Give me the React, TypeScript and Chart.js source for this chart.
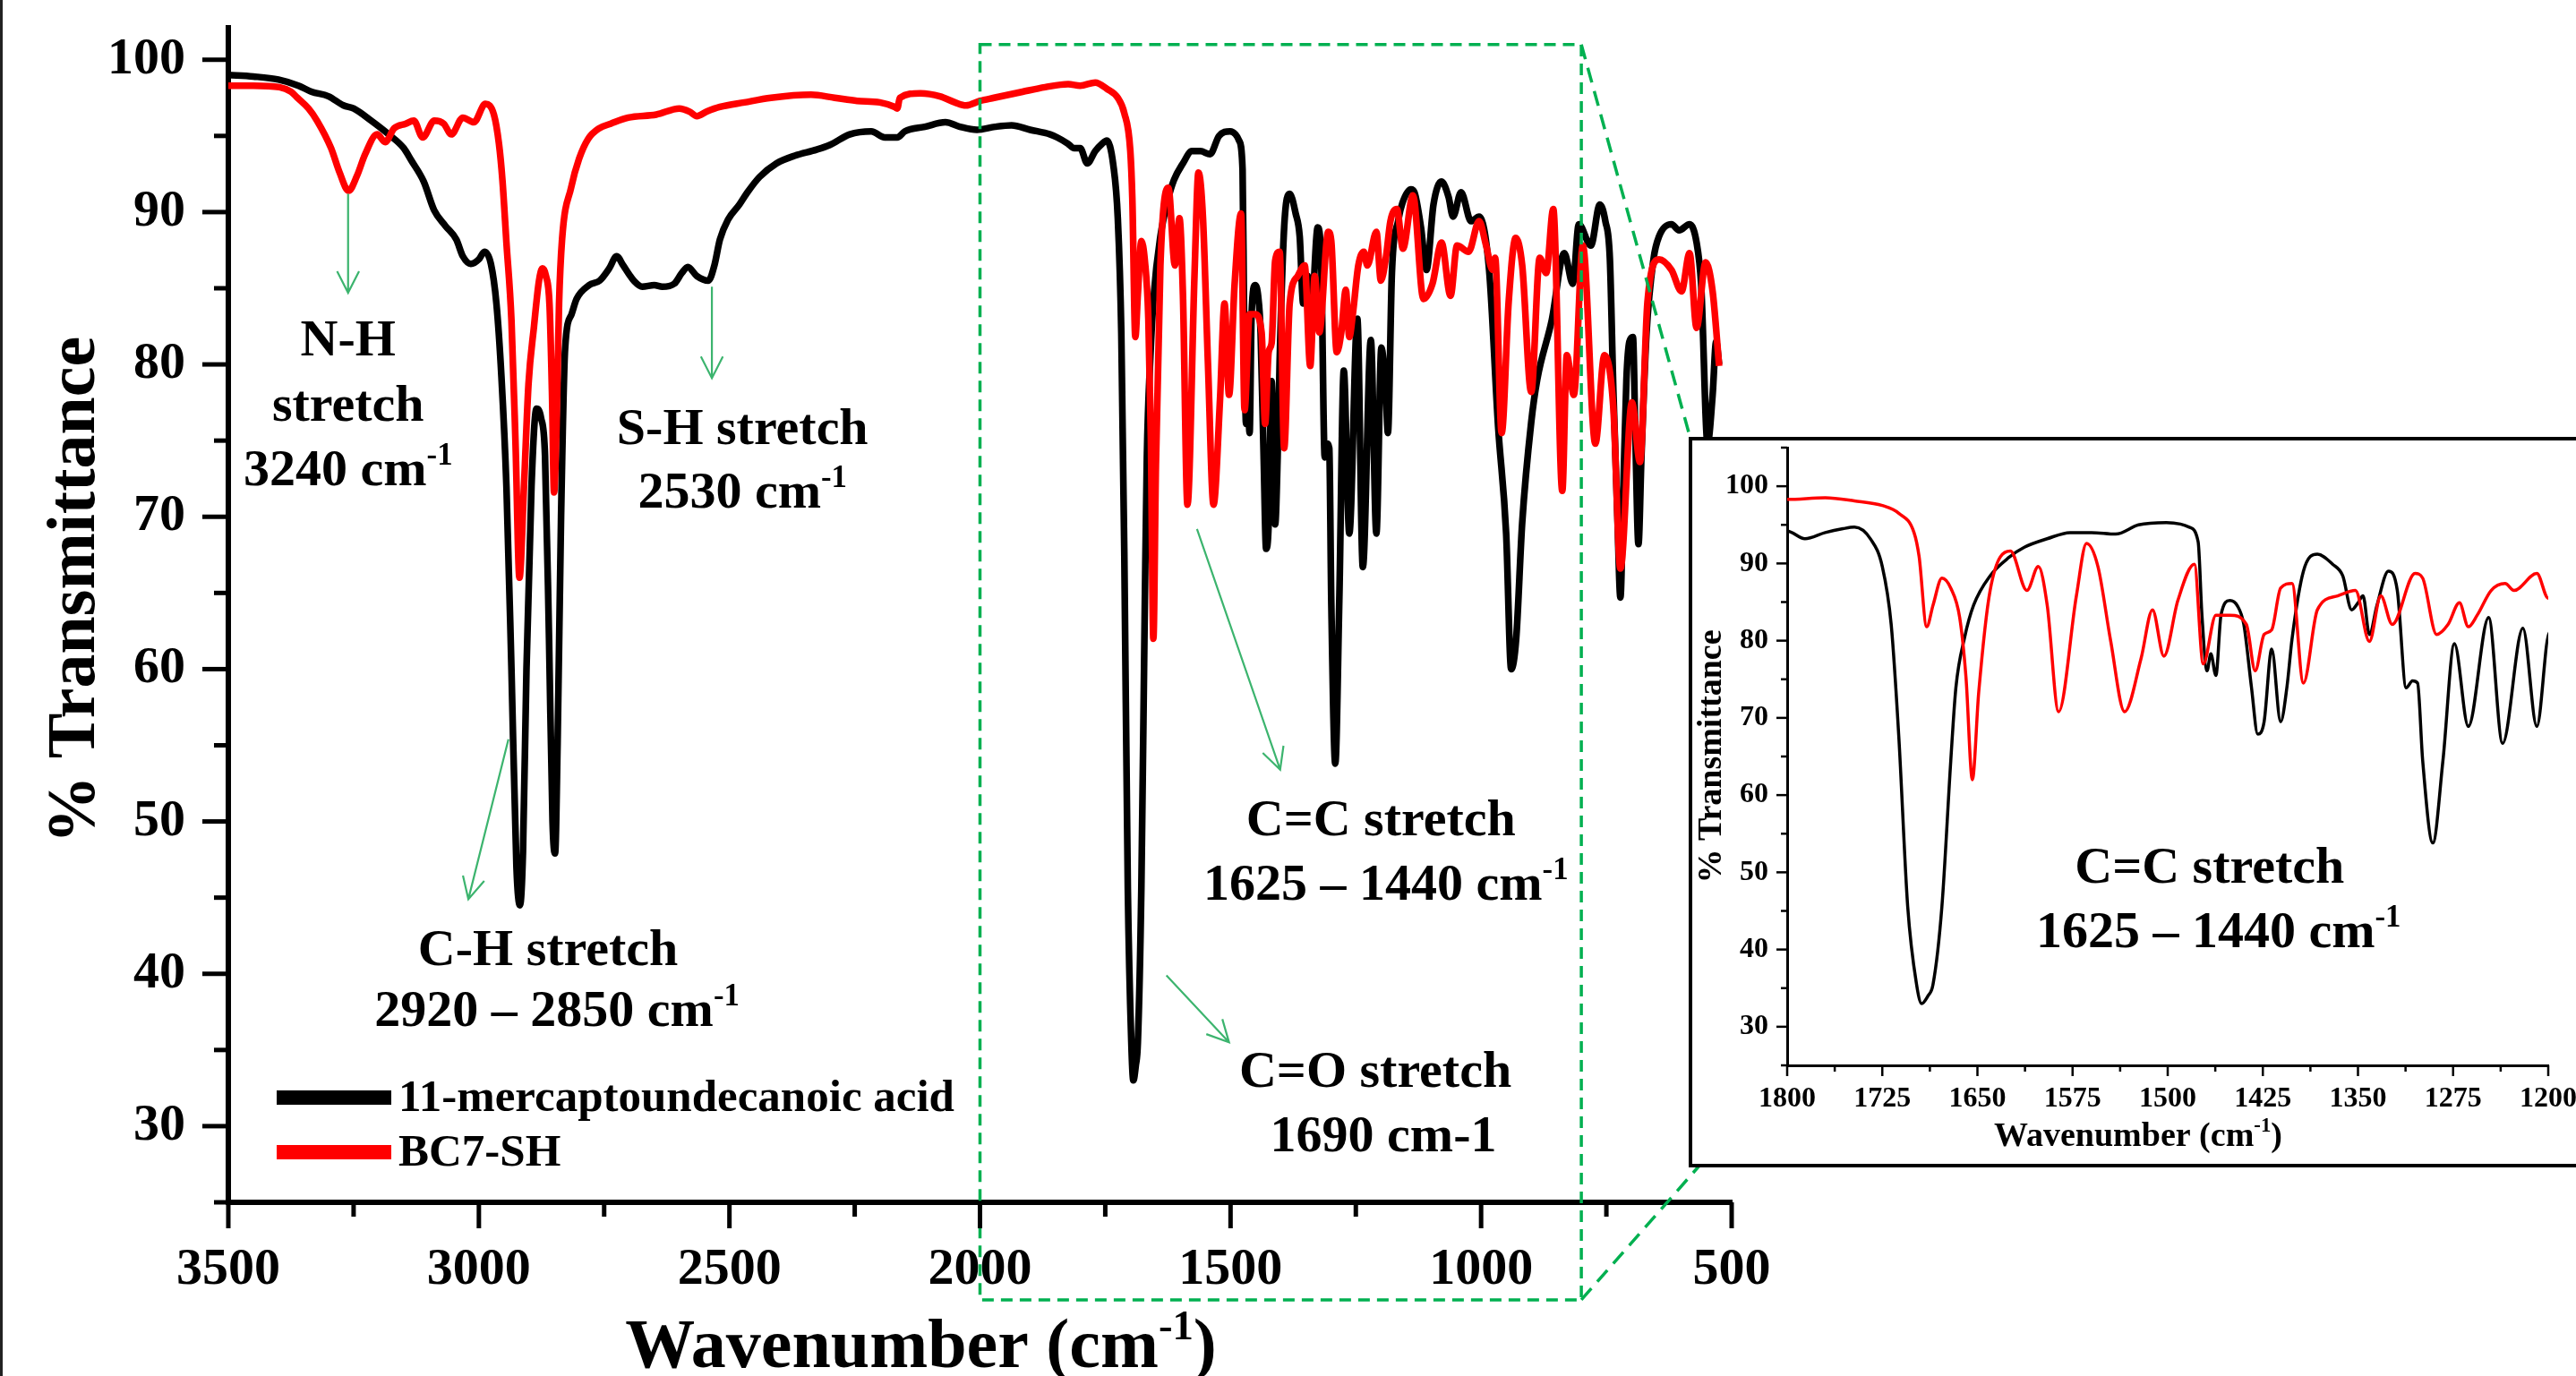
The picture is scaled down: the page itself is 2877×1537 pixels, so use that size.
import React, { useEffect, useRef } from 'react';
import { Chart, registerables } from 'chart.js';

Chart.register(...registerables);

const SERIF = '"Liberation Serif", "Times New Roman", Times, serif';

// ---------- data ----------
const seriesNames = ['11-mercaptoundecanoic acid', 'BC7-SH'];
const seriesColors = ['#000000', '#ff0000'];

// [wavenumber (cm-1), % transmittance]
const acidSpectrum: [number, number][] = [
  [3500, 99.0], [3450, 98.9], [3400, 98.7], [3360, 98.3], [3334, 97.9], [3300, 97.6], [3270, 97.0],
  [3250, 96.8], [3215, 96.0], [3180, 95.1], [3150, 94.2], [3135, 93.4], [3110, 92.0], [3089, 90.1],
  [3067, 89.1], [3045, 88.2], [3032, 87.1], [3016, 86.6], [3000, 86.9], [2989, 87.4], [2976, 86.6],
  [2965, 84.0], [2955, 79.2], [2945, 72.0], [2935, 60.0], [2925, 47.0], [2918, 44.5], [2912, 48.0],
  [2905, 60.0], [2895, 72.0], [2885, 77.1], [2876, 76.5], [2868, 74.0], [2860, 62.0], [2853, 50.0],
  [2848, 47.9], [2843, 55.0], [2836, 70.0], [2828, 81.0], [2815, 83.3], [2805, 84.3], [2780, 85.2],
  [2759, 85.5], [2740, 86.3], [2725, 87.1], [2712, 86.5], [2700, 85.9], [2691, 85.5], [2674, 85.1],
  [2650, 85.2], [2634, 85.1], [2610, 85.3], [2595, 86.0], [2583, 86.4], [2565, 85.8], [2542, 85.5],
  [2530, 86.5], [2519, 88.2], [2503, 89.5], [2480, 90.5], [2464, 91.3], [2440, 92.3], [2406, 93.2],
  [2370, 93.7], [2326, 94.1], [2300, 94.4], [2260, 95.1], [2217, 95.3], [2190, 94.9], [2165, 94.9],
  [2150, 95.3], [2110, 95.6], [2069, 95.9], [2040, 95.6], [2006, 95.4], [1970, 95.6], [1937, 95.7],
  [1900, 95.4], [1860, 95.1], [1846, 94.9], [1825, 94.5], [1812, 94.2], [1800, 94.2], [1786, 93.2],
  [1770, 94.0], [1756, 94.5], [1747, 94.7], [1734, 93.1], [1725, 89.6], [1718, 82.1], [1712, 67.6],
  [1705, 45.6], [1698, 35.5], [1694, 33.0], [1689, 34.0], [1685, 35.5], [1678, 45.6], [1671, 64.5],
  [1667, 73.9], [1660, 80.5], [1653, 84.6], [1640, 88.4], [1625, 90.8], [1613, 92.1], [1595, 93.2],
  [1577, 94.0], [1560, 94.0], [1541, 93.8], [1523, 95.0], [1501, 95.3], [1490, 95.1], [1483, 94.7],
  [1476, 92.8], [1473, 83.3], [1469, 76.1], [1466, 78.3], [1462, 75.5], [1458, 83.3], [1451, 85.2],
  [1445, 84.5], [1440, 82.1], [1434, 74.0], [1429, 67.9], [1424, 69.5], [1418, 78.9], [1411, 69.5],
  [1406, 74.0], [1402, 80.2], [1393, 89.0], [1382, 91.2], [1370, 89.9], [1362, 88.4], [1355, 84.0],
  [1350, 84.9], [1346, 85.8], [1341, 80.8], [1335, 84.6], [1326, 89.0], [1319, 86.5], [1312, 73.9],
  [1307, 74.8], [1303, 74.5], [1299, 64.5], [1291, 53.8], [1283, 64.5], [1274, 79.6], [1263, 68.9],
  [1247, 83.0], [1236, 66.7], [1220, 81.6], [1209, 68.9], [1199, 81.1], [1190, 78.0], [1186, 75.5],
  [1178, 86.0], [1165, 89.5], [1157, 90.6], [1140, 91.5], [1133, 91.3], [1120, 89.0], [1109, 86.2],
  [1095, 90.5], [1079, 92.0], [1065, 91.0], [1056, 89.7], [1040, 91.3], [1020, 89.4], [1004, 89.7],
  [984, 86.2], [966, 75.9], [950, 68.9], [940, 60.0], [930, 62.0], [918, 69.6], [900, 76.2],
  [888, 79.0], [859, 82.9], [834, 87.3], [817, 85.3], [805, 89.2], [781, 87.8], [763, 90.5],
  [752, 89.4], [743, 86.9], [736, 78.2], [728, 70.0], [722, 64.7], [716, 72.0], [710, 79.0],
  [704, 81.5], [697, 81.8], [692, 75.0], [686, 68.2], [680, 74.0], [670, 82.0], [656, 86.9],
  [645, 88.4], [620, 89.2], [605, 88.8], [584, 89.2], [570, 88.0], [561, 85.3], [548, 74.8],
  [538, 78.0], [531, 81.5], [525, 80.0],
];

const bc7Spectrum: [number, number][] = [
  [3500, 98.3], [3450, 98.3], [3398, 98.2], [3375, 97.9], [3362, 97.5], [3340, 96.8], [3323, 96.0],
  [3295, 94.2], [3278, 92.6], [3260, 91.4], [3243, 92.4], [3227, 93.8], [3203, 95.1], [3187, 94.6],
  [3169, 95.5], [3146, 95.8], [3130, 96.0], [3112, 94.9], [3089, 96.0], [3070, 95.8], [3055, 95.1],
  [3032, 96.2], [3010, 95.9], [2987, 97.1], [2970, 96.4], [2960, 94.5], [2953, 92.1], [2945, 88.0],
  [2935, 82.9], [2927, 75.0], [2919, 66.0], [2910, 72.0], [2901, 78.7], [2890, 82.5], [2880, 85.5],
  [2873, 86.3], [2866, 85.8], [2859, 83.9], [2854, 78.0], [2850, 71.6], [2845, 76.0], [2840, 84.0],
  [2834, 88.2], [2816, 91.6], [2800, 93.5], [2782, 94.8], [2760, 95.5], [2737, 95.8], [2702, 96.2],
  [2646, 96.4], [2600, 96.8], [2580, 96.6], [2565, 96.3], [2545, 96.6], [2519, 96.9], [2470, 97.2],
  [2417, 97.5], [2337, 97.7], [2290, 97.5], [2245, 97.3], [2200, 97.2], [2170, 96.9], [2165, 96.8],
  [2160, 97.5], [2119, 97.8], [2080, 97.6], [2050, 97.2], [2028, 97.0], [2000, 97.3], [1972, 97.5],
  [1915, 97.9], [1870, 98.2], [1824, 98.4], [1800, 98.3], [1770, 98.5], [1747, 98.1], [1725, 97.5],
  [1712, 96.5], [1700, 94.0], [1696, 90.9], [1690, 81.8], [1685, 84.6], [1678, 88.1], [1671, 86.8],
  [1664, 83.0], [1659, 75.2], [1654, 62.0], [1649, 73.3], [1640, 86.5], [1624, 91.6], [1611, 86.5],
  [1602, 89.6], [1595, 84.6], [1586, 70.8], [1572, 85.8], [1564, 92.6], [1555, 89.6], [1545, 80.0],
  [1534, 70.8], [1521, 77.7], [1512, 84.0], [1503, 78.0], [1492, 85.2], [1479, 89.9], [1472, 77.0],
  [1462, 83.3], [1451, 83.3], [1438, 82.1], [1431, 76.1], [1424, 80.8], [1418, 81.4], [1411, 86.8],
  [1402, 87.4], [1393, 74.5], [1382, 84.0], [1366, 85.8], [1352, 86.5], [1341, 79.9], [1332, 85.8],
  [1323, 82.1], [1305, 88.7], [1299, 88.1], [1288, 80.8], [1279, 82.1], [1270, 84.9], [1263, 81.8],
  [1256, 83.3], [1245, 86.5], [1234, 87.4], [1227, 86.5], [1209, 88.7], [1200, 85.5], [1190, 87.0],
  [1181, 89.4], [1168, 90.2], [1156, 87.6], [1136, 91.1], [1115, 84.3], [1097, 85.3], [1079, 88.0],
  [1061, 84.5], [1048, 87.8], [1025, 87.4], [1004, 89.4], [990, 87.8], [977, 86.2], [972, 87.0],
  [959, 75.5], [945, 84.1], [931, 88.3], [918, 86.5], [900, 78.2], [883, 87.0], [870, 86.0],
  [856, 90.2], [838, 71.7], [829, 80.6], [815, 78.0], [797, 87.8], [772, 74.8], [754, 80.6],
  [736, 77.1], [722, 66.6], [699, 77.5], [683, 73.6], [668, 84.1], [645, 86.9], [620, 86.2],
  [600, 84.8], [584, 87.3], [570, 82.4], [552, 86.7], [538, 84.8], [525, 79.9],
];

const spectra = [acidSpectrum, bc7Spectrum];

// ticks
const mainXTicks = [3500, 3000, 2500, 2000, 1500, 1000, 500];
const mainXMinorTicks = [3250, 2750, 2250, 1750, 1250, 750];
const mainYTicks = [30, 40, 50, 60, 70, 80, 90, 100];
const mainYMinorTicks = [25, 35, 45, 55, 65, 75, 85, 95];
const insetXTicks = [1800, 1725, 1650, 1575, 1500, 1425, 1350, 1275, 1200];
const insetXMinorTicks = [1762.5, 1687.5, 1612.5, 1537.5, 1462.5, 1387.5, 1312.5, 1237.5];
const insetYTicks = [30, 40, 50, 60, 70, 80, 90, 100];
const insetYMinorTicks = [25, 35, 45, 55, 65, 75, 85, 95, 105];

// annotation texts anchored in data units (wavenumber, %T)
const mainNotes = [
  { text: 'N-H', sup: '', w: 3261, t: 81.7 },
  { text: 'stretch', sup: '', w: 3261, t: 77.4 },
  { text: '3240 cm', sup: '-1', w: 3261, t: 73.2 },
  { text: 'S-H stretch', sup: '', w: 2474, t: 75.9 },
  { text: '2530 cm', sup: '-1', w: 2474, t: 71.7 },
  { text: 'C-H stretch', sup: '', w: 2862, t: 41.7 },
  { text: '2920 \u2013 2850 cm', sup: '-1', w: 2844, t: 37.7 },
  { text: 'C=C stretch', sup: '', w: 1200, t: 50.2 },
  { text: '1625 \u2013 1440 cm', sup: '-1', w: 1190, t: 46.0 },
  { text: 'C=O stretch', sup: '', w: 1211, t: 33.7 },
  { text: '1690 cm-1', sup: '', w: 1195, t: 29.5 },
];
const mainArrows = [
  { from: [3261, 91.2], to: [3261, 84.7] },
  { from: [2535, 85.1], to: [2535, 79.1] },
  { from: [2941, 55.4], to: [3021, 44.9] },
  { from: [1567, 69.2], to: [1401, 53.4] },
  { from: [1628, 39.9], to: [1503, 35.5] },
];
const insetNotes = [
  { text: 'C=C stretch', sup: '', w: 1467, t: 50.9 },
  { text: '1625 \u2013 1440 cm', sup: '-1', w: 1460, t: 42.5 },
];
// zoomed window marked on the main chart (wavenumber range and %T range)
const zoomWindow = { from: 2000, to: 800, top: 101, bottom: 18.6 };

// ---------- layout ----------
const PAGE_W = 2877;
const PAGE_H = 1537;
const INSET = { left: 1886, top: 488, width: 991, height: 816, border: 4 };
const GREEN_BOX = '#00b050';
const GREEN_ARROW = '#3cb46e';

function drawRich(ctx: CanvasRenderingContext2D, text: string, sup: string, tail: string, cx: number, cy: number, size: number) {
  const supSize = size * 0.6;
  ctx.font = `bold ${size}px ${SERIF}`;
  const w1 = ctx.measureText(text).width;
  const w3 = tail ? ctx.measureText(tail).width : 0;
  ctx.font = `bold ${supSize}px ${SERIF}`;
  const w2 = sup ? ctx.measureText(sup).width : 0;
  const total = w1 + w2 + w3;
  let x = cx - total / 2;
  const base = cy + size * 0.33;
  ctx.textAlign = 'left';
  ctx.textBaseline = 'alphabetic';
  ctx.font = `bold ${size}px ${SERIF}`;
  ctx.fillText(text, x, base);
  x += w1;
  if (sup) {
    ctx.font = `bold ${supSize}px ${SERIF}`;
    ctx.fillText(sup, x, base - size * 0.4);
    x += w2;
  }
  if (tail) {
    ctx.font = `bold ${size}px ${SERIF}`;
    ctx.fillText(tail, x, base);
  }
}

function drawArrow(ctx: CanvasRenderingContext2D, x1: number, y1: number, x2: number, y2: number) {
  const ang = Math.atan2(y2 - y1, x2 - x1);
  const head = 27;
  const spread = (27 * Math.PI) / 180;
  ctx.beginPath();
  ctx.moveTo(x1, y1);
  ctx.lineTo(x2, y2);
  ctx.moveTo(x2 - head * Math.cos(ang - spread), y2 - head * Math.sin(ang - spread));
  ctx.lineTo(x2, y2);
  ctx.lineTo(x2 - head * Math.cos(ang + spread), y2 - head * Math.sin(ang + spread));
  ctx.stroke();
}

function tickPlugin(cfg: { xMajor: number[]; xMinor: number[]; yMajor: number[]; yMinor: number[]; major: number; minor: number; width: number }) {
  return {
    id: 'customTicks',
    afterDraw(chart: any) {
      const ctx = chart.ctx as CanvasRenderingContext2D;
      const { x, y } = chart.scales;
      const { left, bottom } = chart.chartArea;
      ctx.save();
      ctx.strokeStyle = '#000';
      ctx.lineWidth = cfg.width;
      const seg = (x1: number, y1: number, x2: number, y2: number) => {
        ctx.beginPath();
        ctx.moveTo(x1, y1);
        ctx.lineTo(x2, y2);
        ctx.stroke();
      };
      cfg.xMajor.forEach((v) => { const p = x.getPixelForValue(v); seg(p, bottom, p, bottom + cfg.major); });
      cfg.xMinor.forEach((v) => { const p = x.getPixelForValue(v); seg(p, bottom, p, bottom + cfg.minor); });
      cfg.yMajor.forEach((v) => { const p = y.getPixelForValue(v); seg(left, p, left - cfg.major, p); });
      cfg.yMinor.forEach((v) => { const p = y.getPixelForValue(v); seg(left, p, left - cfg.minor, p); });
      ctx.restore();
    },
  };
}

function makeDatasets(width: number) {
  return spectra.map((s, i) => ({
    label: seriesNames[i],
    data: s.map(([w, t]) => ({ x: w, y: t })),
    borderColor: seriesColors[i],
    backgroundColor: seriesColors[i],
    borderWidth: width,
    pointRadius: 0,
    fill: false,
    cubicInterpolationMode: 'monotone' as const,
    order: spectra.length - i,
  }));
}

const mainOverlay = {
  id: 'mainOverlay',
  afterDatasetsDraw(chart: any) {
    const ctx = chart.ctx as CanvasRenderingContext2D;
    const { x, y } = chart.scales;
    const area = chart.chartArea;
    ctx.save();
    // zoom window
    const zx1 = x.getPixelForValue(zoomWindow.from);
    const zx2 = x.getPixelForValue(zoomWindow.to);
    const zy1 = y.getPixelForValue(zoomWindow.top);
    const zy2 = y.getPixelForValue(zoomWindow.bottom);
    ctx.strokeStyle = GREEN_BOX;
    ctx.lineWidth = 3.5;
    ctx.setLineDash([13, 8]);
    ctx.strokeRect(zx1, zy1, zx2 - zx1, zy2 - zy1);
    ctx.setLineDash([17, 10]);
    ctx.beginPath();
    ctx.moveTo(zx2, zy1);
    ctx.lineTo(INSET.left + 2, INSET.top + 2);
    ctx.moveTo(zx2, zy2);
    ctx.lineTo(INSET.left + 12, INSET.top + INSET.height - 2);
    ctx.stroke();
    ctx.setLineDash([]);
    // arrows
    ctx.strokeStyle = GREEN_ARROW;
    ctx.lineWidth = 2.2;
    mainArrows.forEach((a) => {
      drawArrow(ctx, x.getPixelForValue(a.from[0]), y.getPixelForValue(a.from[1]), x.getPixelForValue(a.to[0]), y.getPixelForValue(a.to[1]));
    });
    // notes
    ctx.fillStyle = '#000';
    mainNotes.forEach((n) => drawRich(ctx, n.text, n.sup, '', x.getPixelForValue(n.w), y.getPixelForValue(n.t), 58));
    // legend
    chart.data.datasets.forEach((ds: any, i: number) => {
      const ly = area.bottom - 117 + i * 61;
      ctx.fillStyle = ds.borderColor;
      ctx.fillRect(area.left + 54, ly - 8, 128, 16);
      ctx.fillStyle = '#000';
      ctx.font = `bold 51px ${SERIF}`;
      ctx.textAlign = 'left';
      ctx.textBaseline = 'middle';
      ctx.fillText(ds.label, area.left + 190, ly + 2);
    });
    // axis titles
    ctx.fillStyle = '#000';
    drawRich(ctx, 'Wavenumber (cm', '-1', ')', (area.left + area.right) / 2 - 66, area.bottom + 158, 78);
    ctx.translate(area.left - 175, (area.top + area.bottom) / 2 - 28);
    ctx.rotate(-Math.PI / 2);
    ctx.font = `bold 76px ${SERIF}`;
    ctx.textAlign = 'center';
    ctx.textBaseline = 'alphabetic';
    ctx.fillText('% Transmittance', 0, 76 * 0.33);
    ctx.restore();
  },
};

const insetOverlay = {
  id: 'insetOverlay',
  afterDatasetsDraw(chart: any) {
    const ctx = chart.ctx as CanvasRenderingContext2D;
    const { x, y } = chart.scales;
    const area = chart.chartArea;
    ctx.save();
    ctx.fillStyle = '#000';
    insetNotes.forEach((n) => drawRich(ctx, n.text, n.sup, '', x.getPixelForValue(n.w), y.getPixelForValue(n.t), 58));
    drawRich(ctx, 'Wavenumber (cm', '-1', ')', (area.left + area.right) / 2 - 33, area.bottom + 77, 38);
    ctx.translate(area.left - 87, (area.top + area.bottom) / 2);
    ctx.rotate(-Math.PI / 2);
    ctx.font = `bold 38px ${SERIF}`;
    ctx.textAlign = 'center';
    ctx.textBaseline = 'alphabetic';
    ctx.fillText('% Transmittance', 0, 38 * 0.33);
    ctx.restore();
  },
};

function axisConfig(opts: {
  min: number; max: number; reverse?: boolean; ticks: number[]; labels: number[]; size: number;
  padding: number; fit: (s: any) => void; border: number;
}) {
  return {
    type: 'linear' as const,
    min: opts.min,
    max: opts.max,
    reverse: !!opts.reverse,
    afterFit: (s: any) => {
      opts.fit(s);
      // keep label overhang from pushing the plot area around
      s.paddingTop = 0;
      s.paddingBottom = 0;
      s.paddingLeft = 0;
      s.paddingRight = 0;
    },
    afterBuildTicks: (s: any) => {
      s.ticks = [...opts.ticks].sort((a, b) => a - b).map((v) => ({ value: v }));
    },
    grid: { display: false, drawTicks: false },
    border: { display: true, color: '#000', width: opts.border },
    ticks: {
      autoSkip: false,
      maxRotation: 0,
      minRotation: 0,
      padding: opts.padding,
      color: '#000',
      font: { family: SERIF, size: opts.size, weight: 'bold' as const },
      callback: (v: any) => (opts.labels.includes(Number(v)) ? String(v) : ''),
    },
  };
}

export default function App() {
  const mainRef = useRef<HTMLCanvasElement>(null);
  const insetRef = useRef<HTMLCanvasElement>(null);

  useEffect(() => {
    const main = new Chart(mainRef.current as HTMLCanvasElement, {
      type: 'line',
      data: { datasets: makeDatasets(7.5) as any },
      options: {
        animation: false,
        responsive: false,
        devicePixelRatio: 1,
        layout: { padding: { left: 0, right: 943, top: 31, bottom: 0 } },
        scales: {
          x: axisConfig({
            min: 500, max: 3500, reverse: true, ticks: [...mainXTicks, ...mainXMinorTicks], labels: mainXTicks,
            size: 58, padding: 41, fit: (s: any) => { s.height = 194; }, border: 6,
          }) as any,
          y: axisConfig({
            min: 25, max: 102.1, ticks: [...mainYTicks, ...mainYMinorTicks], labels: mainYTicks,
            size: 58, padding: 48, fit: (s: any) => { s.width = 255; }, border: 6,
          }) as any,
        },
        plugins: { legend: { display: false }, tooltip: { enabled: false } },
      },
      plugins: [
        tickPlugin({ xMajor: mainXTicks, xMinor: mainXMinorTicks, yMajor: mainYTicks, yMinor: mainYMinorTicks, major: 29, minor: 16, width: 5 }),
        mainOverlay,
      ],
    });

    const inset = new Chart(insetRef.current as HTMLCanvasElement, {
      type: 'line',
      data: { datasets: makeDatasets(3.5) as any },
      options: {
        animation: false,
        responsive: false,
        devicePixelRatio: 1,
        layout: { padding: { left: 0, right: 31, top: 8, bottom: 0 } },
        scales: {
          x: axisConfig({
            min: 1200, max: 1800, reverse: true, ticks: [...insetXTicks, ...insetXMinorTicks], labels: insetXTicks,
            size: 32, padding: 19, fit: (s: any) => { s.height = 110; }, border: 3,
          }) as any,
          y: axisConfig({
            min: 25, max: 105, ticks: [...insetYTicks, ...insetYMinorTicks], labels: insetYTicks,
            size: 32, padding: 21, fit: (s: any) => { s.width = 106; }, border: 3,
          }) as any,
        },
        plugins: { legend: { display: false }, tooltip: { enabled: false } },
      },
      plugins: [
        tickPlugin({ xMajor: insetXTicks, xMinor: insetXMinorTicks, yMajor: insetYTicks, yMinor: insetYMinorTicks, major: 12, minor: 7, width: 2.5 }),
        insetOverlay,
      ],
    });

    return () => {
      main.destroy();
      inset.destroy();
    };
  }, []);

  const innerW = INSET.width - INSET.border;
  const innerH = INSET.height - 2 * INSET.border;

  return (
    <div style={{ position: 'fixed', left: 0, top: 0, width: PAGE_W, height: PAGE_H, overflow: 'hidden', background: '#fff' }}>
      <canvas
        ref={mainRef}
        width={PAGE_W}
        height={PAGE_H}
        style={{ position: 'absolute', left: 0, top: 0, width: PAGE_W, height: PAGE_H }}
      />
      <div
        style={{
          position: 'absolute',
          left: INSET.left,
          top: INSET.top,
          width: INSET.width,
          height: INSET.height,
          boxSizing: 'border-box',
          borderLeft: `${INSET.border}px solid #000`,
          borderTop: `${INSET.border}px solid #000`,
          borderBottom: `${INSET.border}px solid #000`,
          background: '#fff',
        }}
      >
        <canvas ref={insetRef} width={innerW} height={innerH} style={{ display: 'block', width: innerW, height: innerH }} />
      </div>
      <div style={{ position: 'absolute', left: 0, top: 0, width: 3, height: PAGE_H, background: '#222' }} />
    </div>
  );
}
